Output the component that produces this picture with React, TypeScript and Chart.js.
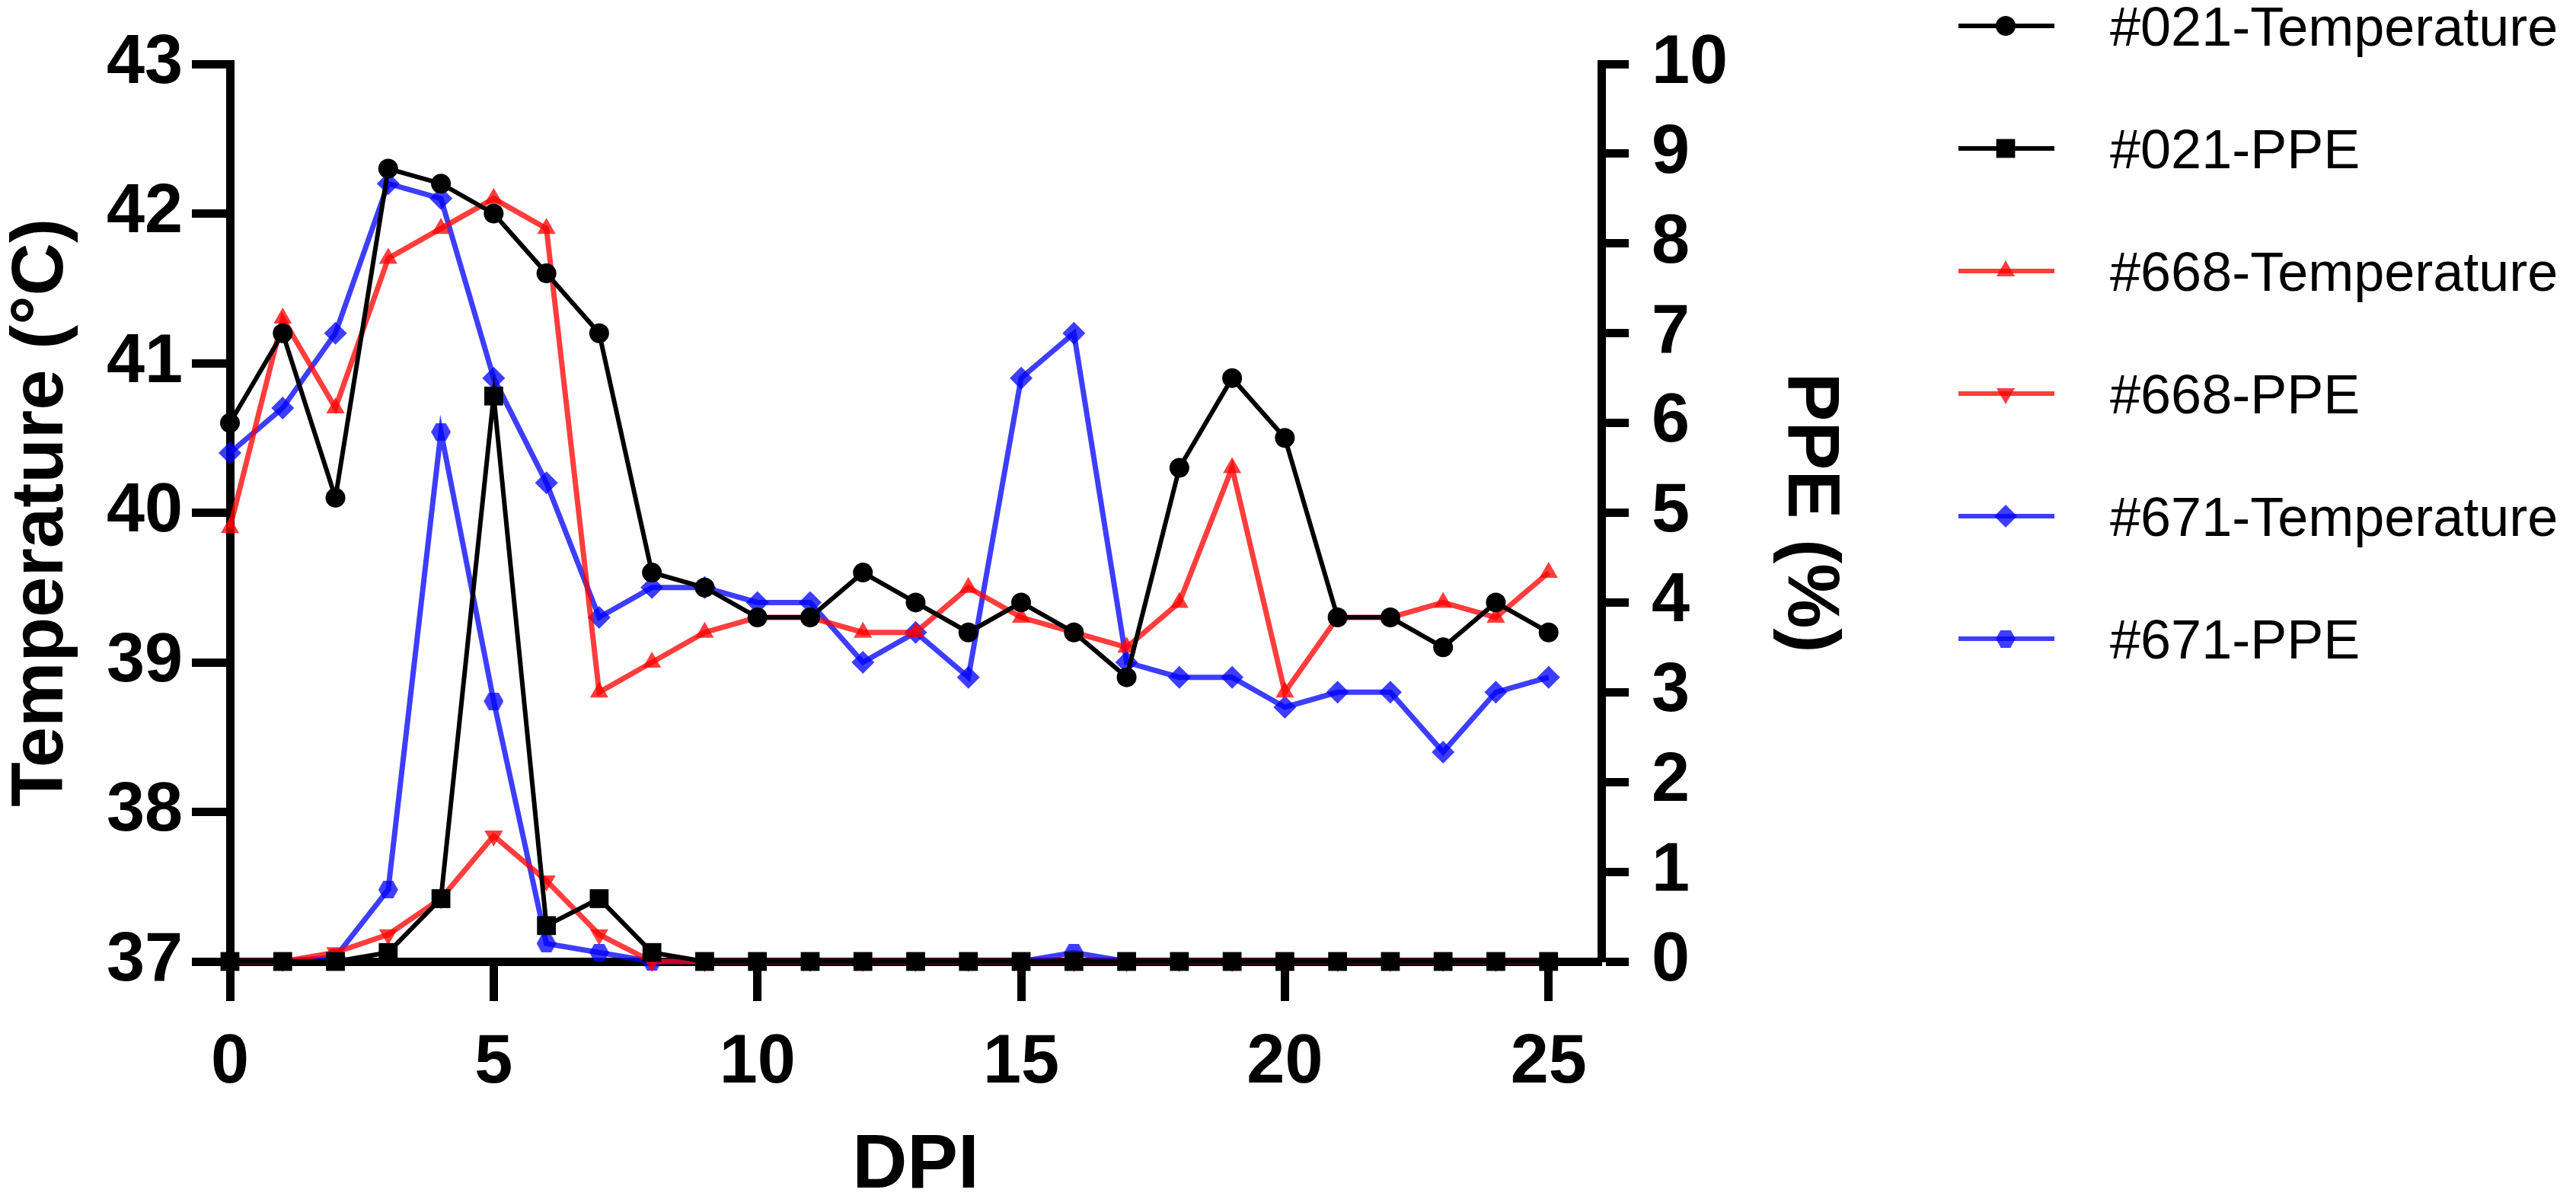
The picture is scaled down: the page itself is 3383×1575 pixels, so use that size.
import { useEffect, useRef } from "react";
import { Chart, registerables } from "chart.js";
import { drawPoint } from "chart.js/helpers";

Chart.register(...registerables);

// DPI (days post infection)
const dpi = [0, 1, 2, 3, 4, 5, 6, 7, 8, 9, 10, 11, 12, 13, 14, 15, 16, 17, 18, 19, 20, 21, 22, 23, 24, 25];
const dpiTicks = [0, 5, 10, 15, 20, 25];

// rectal temperature (°C)
const temp021 = [40.6, 41.2, 40.1, 42.3, 42.2, 42.0, 41.6, 41.2, 39.6, 39.5, 39.3, 39.3, 39.6, 39.4, 39.2, 39.4, 39.2, 38.9, 40.3, 40.9, 40.5, 39.3, 39.3, 39.1, 39.4, 39.2];
const temp668 = [39.9, 41.3, 40.7, 41.7, 41.9, 42.1, 41.9, 38.8, 39.0, 39.2, 39.3, 39.3, 39.2, 39.2, 39.5, 39.3, 39.2, 39.1, 39.4, 40.3, 38.8, 39.3, 39.3, 39.4, 39.3, 39.6];
const temp671 = [40.4, 40.7, 41.2, 42.2, 42.1, 40.9, 40.2, 39.3, 39.5, 39.5, 39.4, 39.4, 39.0, 39.2, 38.9, 40.9, 41.2, 39.0, 38.9, 38.9, 38.7, 38.8, 38.8, 38.4, 38.8, 38.9];

// PPE (%)
const ppe021 = [0, 0, 0, 0.1, 0.7, 6.3, 0.4, 0.7, 0.1, 0, 0, 0, 0, 0, 0, 0, 0, 0, 0, 0, 0, 0, 0, 0, 0, 0];
const ppe668 = [0, 0, 0.1, 0.3, 0.7, 1.4, 0.9, 0.3, 0, 0, 0, 0, 0, 0, 0, 0, 0, 0, 0, 0, 0, 0, 0, 0, 0, 0];
const ppe671 = [0, 0, 0.05, 0.8, 5.9, 2.9, 0.2, 0.1, 0, 0, 0, 0, 0, 0, 0, 0, 0.1, 0, 0, 0, 0, 0, 0, 0, 0, 0];

const W = 3383;
const H = 1575;
const FONT = "'Liberation Sans', Arial, sans-serif";
const BLACK = "#000000";
const RED = "rgba(255, 0, 0, 0.76)";
const BLUE = "rgba(0, 0, 255, 0.76)";

function hexagon(color: string, w: number, h: number) {
  const c = document.createElement("canvas");
  c.width = w;
  c.height = h;
  const ctx = c.getContext("2d")!;
  ctx.fillStyle = color;
  ctx.beginPath();
  ctx.moveTo(0, h / 2);
  ctx.lineTo(w / 4, 0);
  ctx.lineTo((3 * w) / 4, 0);
  ctx.lineTo(w, h / 2);
  ctx.lineTo((3 * w) / 4, h);
  ctx.lineTo(w / 4, h);
  ctx.closePath();
  ctx.fill();
  return c;
}

const pts = (ys: number[]) => dpi.map((x, i) => ({ x, y: ys[i] }));

// legend column on the right, drawn by hand
const sideLegend = {
  id: "sideLegend",
  afterDraw(chart: any) {
    const ctx = chart.ctx;
    ctx.save();
    chart.data.datasets.forEach((ds: any, i: number) => {
      const y = 34 + i * 161;
      ctx.strokeStyle = ds.borderColor;
      ctx.lineWidth = 6;
      ctx.beginPath();
      ctx.moveTo(2572, y);
      ctx.lineTo(2698, y);
      ctx.stroke();
      ctx.fillStyle = ds.pointBackgroundColor;
      drawPoint(
        ctx,
        {
          pointStyle: ds.pointStyle,
          radius: ds.pointRadius,
          rotation: ds.pointRotation || 0,
          borderWidth: 0,
        } as any,
        2634,
        y
      );
      ctx.fillStyle = "#000";
      ctx.font = `72px ${FONT}`;
      ctx.textBaseline = "alphabetic";
      ctx.textAlign = "left";
      ctx.fillText(ds.label, 2771, y + 26);
    });
    ctx.restore();
  },
};

export default function App() {
  const chartRef = useRef<HTMLCanvasElement>(null);
  const chartInstance = useRef<Chart | null>(null);

  useEffect(() => {
    document.body.style.margin = "0";
    if (!chartRef.current) return;
    if (chartInstance.current) chartInstance.current.destroy();

    const hexBlue = hexagon(BLUE, 26, 23);

    const line = (
      label: string,
      ys: number[],
      color: string,
      axis: string,
      style: any,
      radius: number,
      width: number,
      rotation = 0
    ) => ({
      label,
      data: pts(ys),
      yAxisID: axis,
      borderColor: color,
      backgroundColor: color,
      pointBackgroundColor: color,
      borderWidth: width,
      pointStyle: style,
      pointRadius: radius,
      pointRotation: rotation,
      pointBorderWidth: 0,
      tension: 0,
      clip: false as any,
    });

    const tickFont = { family: FONT, size: 90, weight: "bold" as const };
    const titleFont = { family: FONT, size: 96, weight: "bold" as const, lineHeight: 1 };

    chartInstance.current = new Chart(chartRef.current, {
      type: "line",
      data: {
        datasets: [
          line("#021-Temperature", temp021, BLACK, "yT", "circle", 13, 6),
          line("#021-PPE", ppe021, BLACK, "yP", "rect", 17.5, 6),
          line("#668-Temperature", temp668, RED, "yT", "triangle", 14, 7),
          line("#668-PPE", ppe668, RED, "yP", "triangle", 14, 7, 180),
          line("#671-Temperature", temp671, BLUE, "yT", "rectRot", 15, 7),
          line("#671-PPE", ppe671, BLUE, "yP", hexBlue, 13, 7),
        ] as any,
      },
      options: {
        responsive: false,
        animation: false,
        devicePixelRatio: 1,
        events: [],
        layout: { padding: { left: 0, right: 960, top: 63, bottom: 0 } },
        plugins: {
          legend: { display: false },
          tooltip: { enabled: false },
        },
        scales: {
          x: {
            type: "linear",
            min: 0,
            max: 26,
            afterBuildTicks: (axis: any) => {
              axis.ticks = dpiTicks.map((v) => ({ value: v }));
            },
            afterFit: (s: any) => {
              s.height = 312;
            },
            grid: {
              drawOnChartArea: false,
              drawTicks: true,
              tickLength: 52,
              tickWidth: 11,
              tickColor: BLACK,
            },
            border: { display: true, color: BLACK, width: 11 },
            ticks: {
              color: BLACK,
              font: tickFont,
              padding: 28,
              maxRotation: 0,
              autoSkip: false,
            },
            title: {
              display: true,
              text: "DPI",
              color: BLACK,
              font: { ...titleFont, size: 100, lineHeight: 0.86 },
              padding: 0,
            },
          },
          yT: {
            type: "linear",
            position: "left",
            min: 37,
            max: 43,
            afterFit: (s: any) => {
              s.width = 302;
            },
            grid: {
              drawOnChartArea: false,
              drawTicks: true,
              tickLength: 50,
              tickWidth: 11,
              tickColor: BLACK,
            },
            border: { display: true, color: BLACK, width: 11 },
            ticks: { stepSize: 1, color: BLACK, font: tickFont, padding: 12 },
            title: {
              display: true,
              text: "Temperature (°C)",
              color: BLACK,
              font: titleFont,
              padding: { top: 8, bottom: 0 },
            },
          },
          yP: {
            type: "linear",
            position: "right",
            min: 0,
            max: 10,
            afterFit: (s: any) => {
              s.width = 320;
            },
            grid: {
              drawOnChartArea: false,
              drawTicks: true,
              tickLength: 36,
              tickWidth: 11,
              tickColor: BLACK,
            },
            border: { display: true, color: BLACK, width: 11 },
            ticks: { stepSize: 1, color: BLACK, font: tickFont, padding: 30 },
            title: {
              display: true,
              text: "PPE (%)",
              color: BLACK,
              font: titleFont,
              padding: 0,
            },
          },
        },
      } as any,
      plugins: [sideLegend],
    });

    return () => {
      if (chartInstance.current) {
        chartInstance.current.destroy();
        chartInstance.current = null;
      }
    };
  }, []);

  return (
    <div style={{ width: W, height: H, background: "#fff" }}>
      <canvas ref={chartRef} width={W} height={H} style={{ display: "block" }} />
    </div>
  );
}
